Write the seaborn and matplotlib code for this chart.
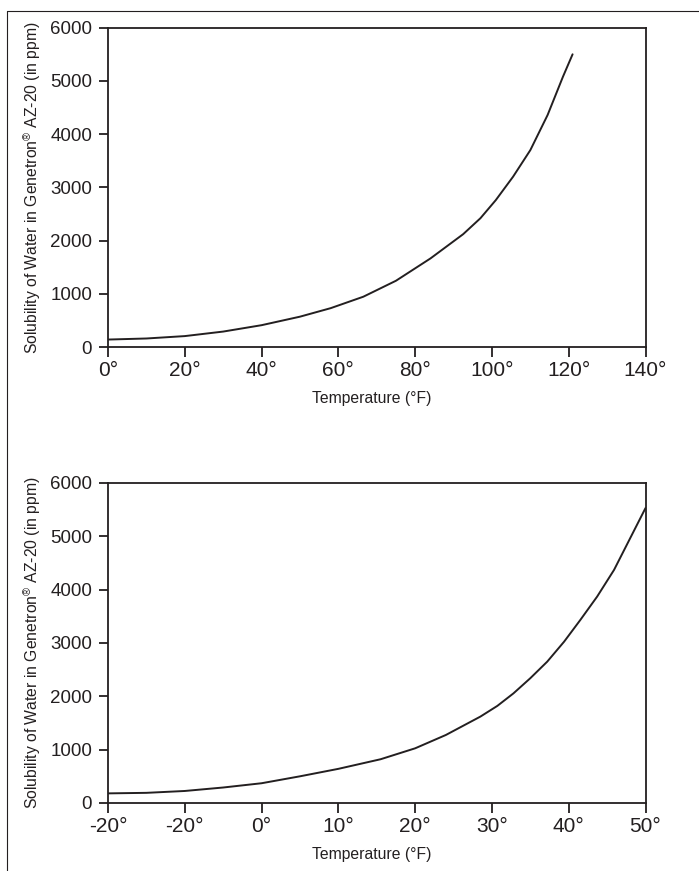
import matplotlib
matplotlib.use("Agg")
import matplotlib.pyplot as plt
from matplotlib.lines import Line2D
import seaborn as sns
import pandas as pd

# ---- data ----
top_temp = [0, 10, 20, 30, 40, 50, 58, 66.5, 75, 84, 92.5, 97, 101, 105.5, 110, 114.5, 118.5, 121]
top_solubility = [140, 160, 205, 290, 410, 570, 730, 945, 1245, 1665, 2120, 2420, 2760, 3200, 3700, 4360, 5080, 5500]
top_xticks = [0, 20, 40, 60, 80, 100, 120, 140]
top_xticklabels = ["0°", "20°", "40°", "60°", "80°", "100°", "120°", "140°"]

bot_temp = [-20, -15, -10, -5, 0, 5, 10, 15.5, 20, 24, 28.5, 30.7, 32.8, 35, 37.2, 39.4, 41.5, 43.7, 45.9, 50]
bot_solubility = [180, 190, 225, 290, 370, 500, 640, 820, 1025, 1275, 1620, 1820, 2055, 2340, 2650, 3025, 3430, 3870, 4370, 5530]
bot_xticks = [-20, -10, 0, 10, 20, 30, 40, 50]
bot_xticklabels = ["-20°", "-20°", "0°", "10°", "20°", "30°", "40°", "50°"]

yticks = [0, 1000, 2000, 3000, 4000, 5000, 6000]
ylabel = "Solubility of Water in Genetron$^{\\circledR}$ AZ-20 (in ppm)"
xlabel = "Temperature (°F)"

# ---- style ----
sns.set_theme(style="ticks")
plt.rcParams["font.family"] = ["Liberation Sans", "DejaVu Sans"]
plt.rcParams["mathtext.fontset"] = "custom"
plt.rcParams["mathtext.rm"] = "Liberation Sans"
ink = "#231f20"

fig = plt.figure(figsize=(6.99, 8.71), dpi=100)
fig.patch.set_facecolor("white")

ax_top = fig.add_axes([0.1545, 0.6016, 0.7690, 0.3666])
ax_bot = fig.add_axes([0.1545, 0.0781, 0.7690, 0.3674])

df_top = pd.DataFrame({"T": top_temp, "S": top_solubility})
df_bot = pd.DataFrame({"T": bot_temp, "S": bot_solubility})

for ax, df, xt, xtl, xlim in [
    (ax_top, df_top, top_xticks, top_xticklabels, (0, 140)),
    (ax_bot, df_bot, bot_xticks, bot_xticklabels, (-20, 50)),
]:
    sns.lineplot(data=df, x="T", y="S", ax=ax, color=ink, linewidth=1.4)
    ax.set_xlim(*xlim)
    ax.set_ylim(0, 6000)
    ax.set_xticks(xt)
    ax.set_xticklabels(xtl)
    ax.set_yticks(yticks)
    ax.set_yticklabels([str(v) for v in yticks])
    for s in ax.spines.values():
        s.set_visible(True)
        s.set_color(ink)
        s.set_linewidth(1.3)
    ax.tick_params(axis="x", direction="out", length=7, width=1.3, color=ink,
                   labelsize=15, labelcolor=ink, pad=3)
    ax.tick_params(axis="y", direction="out", length=6.5, width=1.3, color=ink,
                   labelsize=13.5, labelcolor=ink, pad=5)
    ax.set_xlabel(xlabel, fontsize=11.3, color=ink)
    ax.set_ylabel(ylabel, fontsize=11.3, color=ink)
    ax.xaxis.set_label_coords(0.491, -0.138)
    ax.yaxis.set_label_coords(-0.121, 0.5)
    ax.set_facecolor("white")

# outer frame (top and left border lines)
fig.add_artist(Line2D([0.010, 1.0], [0.98737, 0.98737], transform=fig.transFigure,
                      color=ink, linewidth=0.8))
fig.add_artist(Line2D([0.010, 0.010], [0.0, 0.98737], transform=fig.transFigure,
                      color=ink, linewidth=0.8))

fig.savefig("out.png", dpi=100, facecolor="white")
